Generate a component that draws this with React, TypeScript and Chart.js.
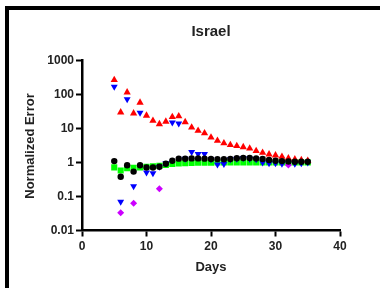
import React, { useEffect, useRef } from "react";
import { Chart, registerables } from "chart.js";

Chart.register(...registerables);

const days = [5, 6, 7, 8, 9, 10, 11, 12, 13, 14, 15, 16, 17, 18, 19, 20, 21, 22, 23, 24, 25, 26, 27, 28, 29, 30, 31, 32, 33, 34, 35];
const redUp = [267, 30, 116, 28, 58, 24, 17, 13.5, 16, 22, 23, 15.5, 10.7, 8.6, 7.3, 5.5, 4.4, 3.7, 3.27, 3.07, 2.85, 2.6, 2.2, 1.94, 1.74, 1.63, 1.48, 1.33, 1.24, 1.18, 1.13];
const blueDown = [170, 0.07, 72, 0.2, 29, 0.51, 0.48, 0.75, 0.95, 15, 14, 1.3, 2.05, 1.78, 1.78, 1.25, 0.88, 0.9, 1.25, 1.3, 1.35, 1.3, 1.25, 1.0, 0.95, 0.95, 0.92, 1.0, 0.92, 0.95, 1.0];
const purple = [null, 0.033, null, 0.063, null, null, null, 0.17, null, null, null, null, null, null, null, null, null, null, null, null, null, null, null, null, null, null, null, 0.85, null, null, null];
const green = [0.72, 0.58, 0.68, 0.7, 0.72, 0.75, 0.78, 0.8, 0.85, 0.9, 0.93, 0.95, 0.97, 0.98, 0.98, 0.98, 1.0, 1.0, 1.0, 1.0, 1.0, 1.0, 1.0, 1.0, 1.0, 1.0, 1.0, 1.0, 1.0, 1.0, 1.0];
const black = [1.1, 0.38, 0.83, 0.54, 0.83, 0.71, 0.71, 0.75, 0.92, 1.13, 1.3, 1.3, 1.32, 1.32, 1.3, 1.27, 1.26, 1.25, 1.27, 1.33, 1.36, 1.36, 1.32, 1.27, 1.18, 1.13, 1.1, 1.07, 1.05, 1.05, 1.05];
const yTicks = [0.01, 0.1, 1, 10, 100, 1000];
const yTickLabels = ["0.01", "0.1", "1", "10", "100", "1000"];
const xTicks = [0, 10, 20, 30, 40];

const titleText = "Israel";
const xTitle = "Days";
const yTitle = "Normalized Error";

const pts = (vals: (number | null)[]) =>
  days.map((d, i) => ({ x: d, y: vals[i] as number })).filter((p) => p.y !== null);

export default function App() {
  const ref = useRef<HTMLCanvasElement>(null);
  useEffect(() => {
    if (!ref.current) return;
    const font = "'Liberation Sans', Arial, sans-serif";
    const textPlugin = {
      id: "texts",
      afterDraw(chart: any) {
        const ctx = chart.ctx;
        ctx.save();
        ctx.fillStyle = "#222";
        ctx.textAlign = "center";
        ctx.textBaseline = "middle";
        ctx.font = `bold 15px ${font}`;
        ctx.fillText(titleText, 211, 32);
        ctx.font = `bold 13px ${font}`;
        ctx.fillText(xTitle, 211, 267);
        ctx.translate(30, 146);
        ctx.rotate(-Math.PI / 2);
        ctx.fillText(yTitle, 0, 0);
        ctx.restore();
      },
    };
    const common = { showLine: false, borderWidth: 0 };
    const chart = new Chart(ref.current, {
      type: "scatter",
      data: {
        datasets: [
          { ...common, label: "green", data: pts(green), pointStyle: "rect", pointRadius: 4.3, backgroundColor: "#00ff00", order: 5 },
          { ...common, label: "blue", data: pts(blueDown), pointStyle: "triangle", rotation: 180, pointRadius: 4, backgroundColor: "#0000ff", order: 4 },
          { ...common, label: "purple", data: pts(purple), pointStyle: "rectRot", pointRadius: 3.5, backgroundColor: "#cc00ff", order: 3 },
          { ...common, label: "red", data: pts(redUp), pointStyle: "triangle", pointRadius: 4.2, backgroundColor: "#ff0000", order: 2 },
          { ...common, label: "black", data: pts(black), pointStyle: "circle", pointRadius: 3.2, backgroundColor: "#000000", order: 1 },
        ],
      },
      options: {
        animation: false,
        responsive: false,
        layout: { padding: { left: 0, right: 40, top: 60.5, bottom: 0 } },
        plugins: { legend: { display: false }, tooltip: { enabled: false }, title: { display: false } },
        scales: {
          x: {
            type: "linear",
            min: 0,
            max: 40,
            afterFit: (s: any) => { s.height = 57.5; },
            afterBuildTicks: (s: any) => { s.ticks = xTicks.map((v) => ({ value: v })); },
            grid: { drawOnChartArea: false, drawTicks: true, tickLength: 6, tickColor: "#000", tickWidth: 2 },
            border: { color: "#000", width: 2.5 },
            ticks: { color: "#222", padding: 3, font: { family: font, size: 12, weight: "bold" } },
          },
          y: {
            type: "logarithmic",
            min: 0.01,
            max: 1000,
            afterFit: (s: any) => { s.width = 82; },
            afterBuildTicks: (s: any) => { s.ticks = yTicks.map((v) => ({ value: v })); },
            grid: { drawOnChartArea: false, drawTicks: true, tickLength: 6, tickColor: "#000", tickWidth: 2 },
            border: { color: "#000", width: 2.5 },
            ticks: {
              color: "#222",
              padding: 2,
              font: { family: font, size: 12, weight: "bold" },
              callback: (v: any) => {
                const i = yTicks.indexOf(Number(v));
                return i >= 0 ? yTickLabels[i] : "";
              },
            },
          },
        },
      },
      plugins: [textPlugin],
    } as any);
    return () => chart.destroy();
  }, []);
  return (
    <div style={{ position: "fixed", left: 0, top: 0, width: 380, height: 288, background: "#fff", overflow: "hidden" }}>
      <div style={{ position: "absolute", left: 5, top: 6, width: 400, height: 300, borderTop: "4px solid #000", borderLeft: "4px solid #000", boxSizing: "border-box" }} />
      <canvas ref={ref} width={380} height={288} style={{ position: "absolute", left: 0, top: 0 }} />
    </div>
  );
}
